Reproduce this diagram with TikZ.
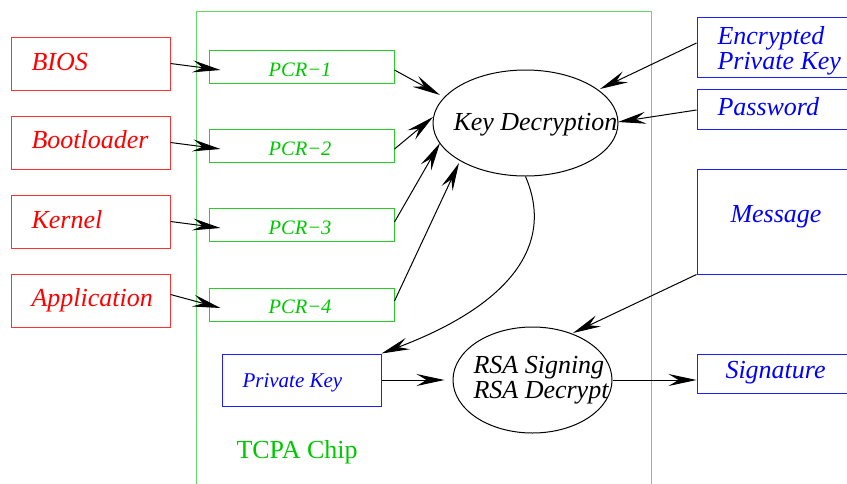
\documentclass[tikz,border=0pt]{standalone}
\usepackage{fontspec}
\setmainfont{Liberation Serif}
\usetikzlibrary{shapes.geometric,arrows.meta,calc}
\definecolor{txtred}{RGB}{255,0,0}
\definecolor{boxred}{RGB}{255,50,50}
\definecolor{txtgreen}{RGB}{0,200,0}
\definecolor{chipgreen}{RGB}{100,220,100}
\definecolor{pcrgreen}{RGB}{40,205,40}
\definecolor{txtblue}{RGB}{0,0,255}
\definecolor{boxblue}{RGB}{30,30,255}
\begin{document}
\begin{tikzpicture}[x=1pt,y=-1pt,line width=1pt,
  box/.style={draw, rectangle, inner sep=0pt, line width=1pt},
  redbox/.style={box, draw=boxred, minimum width=159pt, minimum height=53pt},
  pcrbox/.style={box, draw=pcrgreen, minimum width=185pt, minimum height=33pt},
  bluebox/.style={box, draw=boxblue},
  bigtxt/.style={inner sep=0pt, anchor=base west, font=\fontsize{26}{25}\selectfont\itshape},
  pcrtxt/.style={inner sep=0pt, anchor=base, text=txtgreen, font=\fontsize{20.5}{22}\selectfont\itshape},
  arr/.style={-{Stealth[length=28pt,width=12pt,inset=10pt]}, line width=1pt, black}]
\useasboundingbox (0,0) rectangle (847,483);
\clip (0,0) rectangle (847,483);

% chip
\draw[chipgreen] (196,11) rectangle (651,520);
\node[inner sep=0pt, anchor=base west, text=txtgreen, font=\fontsize{26}{25}\selectfont] (chiplabel) at (236,458) {TCPA Chip};

% red boxes
\node[redbox] (bios) at (90.5,63.5) {};
\node[redbox] (boot) at (90.5,142.5) {};
\node[redbox] (kern) at (90.5,221.5) {};
\node[redbox] (appl) at (90.5,300.5) {};
\node[bigtxt, text=txtred] (biost) at (31,70) {BIOS};
\node[bigtxt, text=txtred] (boott) at (31,148.3) {Bootloader};
\node[bigtxt, text=txtred] (kernt) at (31,228.3) {Kernel};
\node[bigtxt, text=txtred] (applt) at (31,306.7) {Application};

% PCR boxes
\node[pcrbox] (pcr1) at (301.5,67) {};
\node[pcrbox] (pcr2) at (301.5,145.5) {};
\node[pcrbox] (pcr3) at (301.5,225) {};
\node[pcrbox] (pcr4) at (301.5,304.5) {};
\node[pcrtxt] (pcr1t) at (300,76.7) {PCR−1};
\node[pcrtxt] (pcr2t) at (300,155.7) {PCR−2};
\node[pcrtxt] (pcr3t) at (300,234.3) {PCR−3};
\node[pcrtxt] (pcr4t) at (300,313.3) {PCR−4};

% ellipses
\node[draw, ellipse, inner sep=0pt, minimum width=185pt, minimum height=106pt] (kd) at (525.5,123) {};
\node[bigtxt] (kdt) at (453,130) {Key Decryption};
\node[draw, ellipse, inner sep=0pt, minimum width=159pt, minimum height=106pt] (rsa) at (532.5,380) {};
\node[bigtxt] (rsat1) at (473,373) {RSA Signing};
\node[bigtxt] (rsat2) at (473,398) {RSA Decrypt};

% private key
\node[bluebox, minimum width=159pt, minimum height=52pt] (pk) at (301.5,380) {};
\node[inner sep=0pt, anchor=base west, text=txtblue, font=\fontsize{21}{22}\selectfont\itshape] (pkt) at (242,387) {Private Key};

% right blue boxes
\node[bluebox, minimum width=160pt, minimum height=60pt] (enc) at (777,47) {};
\node[bigtxt, text=txtblue] (enct1) at (717,44) {Encrypted};
\node[bigtxt, text=txtblue] (enct2) at (717,69) {Private Key};
\node[bluebox, minimum width=160pt, minimum height=40pt] (pw) at (777,109) {};
\node[bigtxt, text=txtblue] (pwt) at (717,115) {Password};
\node[bluebox, minimum width=158pt, minimum height=105pt] (msg) at (776,221.5) {};
\node[bigtxt, text=txtblue] (msgt) at (730,222) {Message};
\node[bluebox, minimum width=160pt, minimum height=39pt] (sig) at (777,373.5) {};
\node[bigtxt, text=txtblue] (sigt) at (725,378) {Signature};

% arrows into PCRs
\draw[arr] (bios.east) -- ($(pcr1.west)+(12,3)$);
\draw[arr] (boot.east) -- ($(pcr2.west)+(12,3.5)$);
\draw[arr] (kern.east) -- ($(pcr3.west)+(12,3)$);
\draw[arr] ($(appl.east)+(0,-6)$) -- ($(pcr4.west)+(12,3.5)$);

% PCRs to key decryption
\draw[arr] ($(pcr1.east)+(0,3)$) -- ($(kd.center)+(-85.5,-28)$);
\draw[arr] ($(pcr2.east)+(0,3.5)$) -- ($(kd.center)+(-92.5,-6)$);
\draw[arr] ($(pcr3.east)+(0,-3)$) -- ($(kd.center)+(-85.5,20)$);
\draw[arr] ($(pcr4.east)+(0,-3.5)$) -- ($(kd.center)+(-66.5,40)$);

% inputs to key decryption
\draw[arr] ($(enc.west)+(0,-4)$) -- ($(kd.center)+(74.5,-34)$);
\draw[arr] ($(pw.west)+(0,1)$) -- ($(kd.center)+(92.5,-1)$);

% key decryption to private key
\draw[arr] (kd.south) .. controls (555,245) and (510,305) .. (pk.north east);

% into / out of RSA
\draw[arr] (pk.east) -- ($(rsa.west)+(-8,0)$);
\draw[arr] (msg.south west) -- ($(rsa.center)+(40.5,-47)$);
\draw[arr] (rsa.east) -- ($(sig.west)+(0,6.5)$);
\end{tikzpicture}
\end{document}
